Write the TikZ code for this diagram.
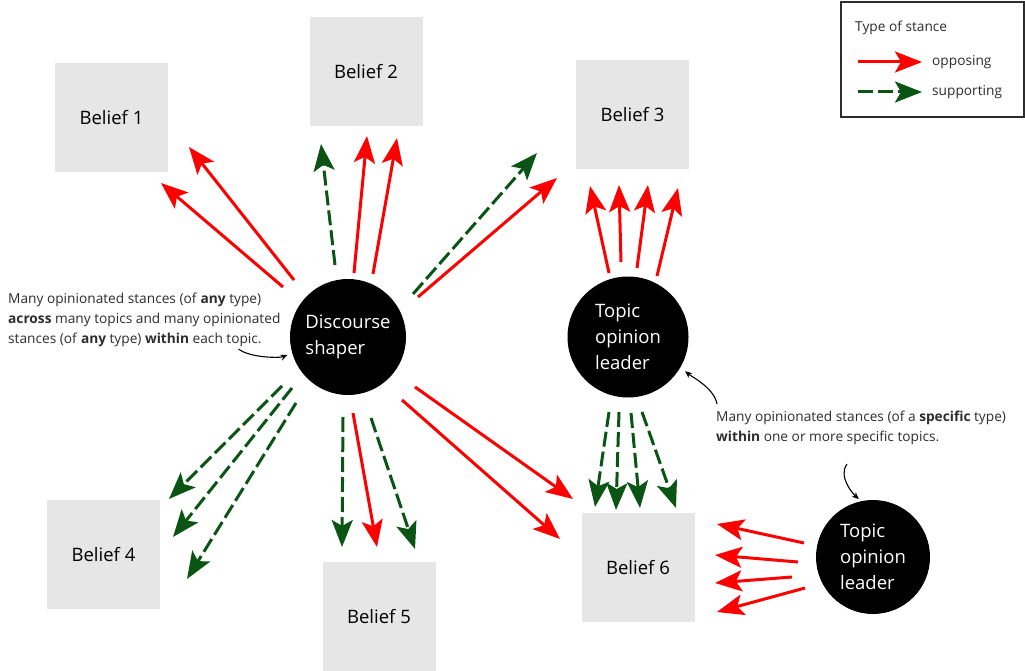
\documentclass[tikz,border=0pt]{standalone}
\usepackage{fontspec}
\setmainfont{Open Sans}
\usepackage{tikz}
\usetikzlibrary{positioning,arrows.meta,calc}
\definecolor{stancered}{RGB}{255,0,0}
\definecolor{stancegreen}{RGB}{10,85,20}
\definecolor{boxgray}{RGB}{230,230,230}
\definecolor{notegray}{RGB}{45,45,45}

\begin{document}
\begin{tikzpicture}[
    x=1pt, y=-1pt,
    belief/.style={fill=boxgray, minimum width=113pt, minimum height=109pt,
                   font=\fontsize{18.5}{25}\selectfont},
    actor/.style={circle, fill=black, text=white, align=left, inner sep=0pt,
                  font=\fontsize{18.5}{26}\selectfont},
    note/.style={text=notegray, align=left, inner sep=0pt,
                 font=\fontsize{13.7}{20}\selectfont},
    opp/.style={draw=stancered, line width=3pt,
                -{Stealth[length=27pt, width=21pt, inset=6pt]}},
    supp/.style={opp, draw=stancegreen, dash pattern=on 15pt off 5pt},
    pointer/.style={-{Stealth[length=7pt, width=6pt]}, line width=1.1pt},
]
  \useasboundingbox (0,0) rectangle (1025,671);
  % Beliefs
  \node[belief] (b1) at (111.5,117.5) {Belief 1};
  \node[belief] (b2) at (366,72)      {Belief 2};
  \node[belief] (b3) at (632.5,114.5) {Belief 3};
  \node[belief] (b4) at (103.5,554.5) {Belief 4};
  \node[belief] (b5) at (379,616.5)   {Belief 5};
  \node[belief] (b6) at (638,567.5)   {Belief 6};
  % Actors
  \node[actor, minimum size=116pt] (ds)  at (348,337) {Discourse\\shaper};
  \node[actor, minimum size=121pt] (tl1) at (628,337) {Topic\\opinion\\leader};
  \node[actor, minimum size=114pt] (tl2) at (873,557) {Topic\\opinion\\leader};
  % Discourse shaper stances
  \draw[opp]  ($(ds)+(-65,-50)$) -- ($(b1)+(49.5,65.5)$);
  \draw[opp]  ($(ds)+(-54,-57)$) -- ($(b1)+(77.5,29.5)$);
  \draw[supp] ($(ds)+(-13,-72)$) -- ($(b2)+(-45,72)$);
  \draw[opp]  ($(ds)+(6,-64)$)   -- ($(b2)+(1,64)$);
  \draw[opp]  ($(ds)+(25,-63)$)  -- ($(b2)+(31,66)$);
  \draw[supp] ($(ds)+(65,-43)$)  -- ($(b3)+(-95.5,38.5)$);
  \draw[opp]  ($(ds)+(70,-40)$)  -- ($(b3)+(-75.5,63.5)$);
  \draw[supp] ($(ds)+(-66,49)$)  -- ($(b4)+(65.5,-55.5)$);
  \draw[supp] ($(ds)+(-56,51)$)  -- ($(b4)+(69.5,-17.5)$);
  \draw[supp] ($(ds)+(-52,66)$)  -- ($(b4)+(83.5,24.5)$);
  \draw[supp] ($(ds)+(-5,80)$)   -- ($(b5)+(-37,-69.5)$);
  \draw[opp]  ($(ds)+(5,76)$)    -- ($(b5)+(-2,-69.5)$);
  \draw[supp] ($(ds)+(23,81)$)   -- ($(b5)+(36,-67.5)$);
  \draw[opp]  ($(ds)+(67,50)$)   -- ($(b6)+(-65,-68.5)$);
  \draw[opp]  ($(ds)+(54,63)$)   -- ($(b6)+(-78,-28.5)$);
  % Upper topic opinion leader
  \draw[opp]  ($(tl1)+(-19,-64)$) -- ($(b3)+(-42.5,71.5)$);
  \draw[opp]  ($(tl1)+(-7,-75)$)  -- ($(b3)+(-13.5,70.5)$);
  \draw[opp]  ($(tl1)+(9,-69)$)   -- ($(b3)+(15.5,70.5)$);
  \draw[opp]  ($(tl1)+(29,-61)$)  -- ($(b3)+(45.5,73.5)$);
  \draw[supp] ($(tl1)+(-19,75)$)  -- ($(b6)+(-43,-60.5)$);
  \draw[supp] ($(tl1)+(-9,75)$)   -- ($(b6)+(-22,-57.5)$);
  \draw[supp] ($(tl1)+(3,76)$)    -- ($(b6)+(2,-59.5)$);
  \draw[supp] ($(tl1)+(14,75)$)   -- ($(b6)+(38,-59.5)$);
  % Lower topic opinion leader
  \draw[opp]  ($(tl2)+(-69,-14)$) -- ($(b6)+(79,-43.5)$);
  \draw[opp]  ($(tl2)+(-75,5)$)   -- ($(b6)+(77,-12.5)$);
  \draw[opp]  ($(tl2)+(-81,20)$)  -- ($(b6)+(77,15.5)$);
  \draw[opp]  ($(tl2)+(-68,31)$)  -- ($(b6)+(79,44.5)$);
  % Notes
  \node[note, anchor=west] (nl) at (8,320)
    {Many opinionated stances (of \textbf{any} type)\\
     \textbf{across} many topics and many opinionated\\
     stances (of \textbf{any} type) \textbf{within} each topic.};
  \node[note, anchor=west] (nr) at (716,428)
    {Many opinionated stances (of a \textbf{specific} type)\\
     \textbf{within} one or more specific topics.};
  \draw[pointer, shorten >=5pt] ($(nl.south east)+(-42,2)$)
    .. controls +(12,9) and +(-12,5) .. (ds.196);
  \draw[pointer, shorten >=6pt] ($(nr.north west)+(1,-7)$)
    .. controls +(-3,-16) and +(12,10) .. (tl1.-30);
  \draw[pointer, shorten >=3pt] ($(nr.south west)+(131,19)$)
    .. controls +(-9,12) and +(-9,-8) .. (tl2.102);
  % Legend
  \node[draw=notegray, line width=1.2pt, minimum width=183pt, minimum height=115pt]
    (leg) at (932.5,59.5) {};
  \node[note, anchor=west] (legt) at (855,28) {Type of stance};
  \coordinate (oa) at (858,62);
  \coordinate (ob) at (922,62);
  \draw[opp] (oa) -- (ob);
  \node[note, right=10pt of ob] (lo) {opposing};
  \coordinate (sa) at (858,92);
  \coordinate (sb) at (922,92);
  \draw[supp] (sa) -- (sb);
  \node[note, right=10pt of sb] (ls) {supporting};
\end{tikzpicture}
\end{document}
